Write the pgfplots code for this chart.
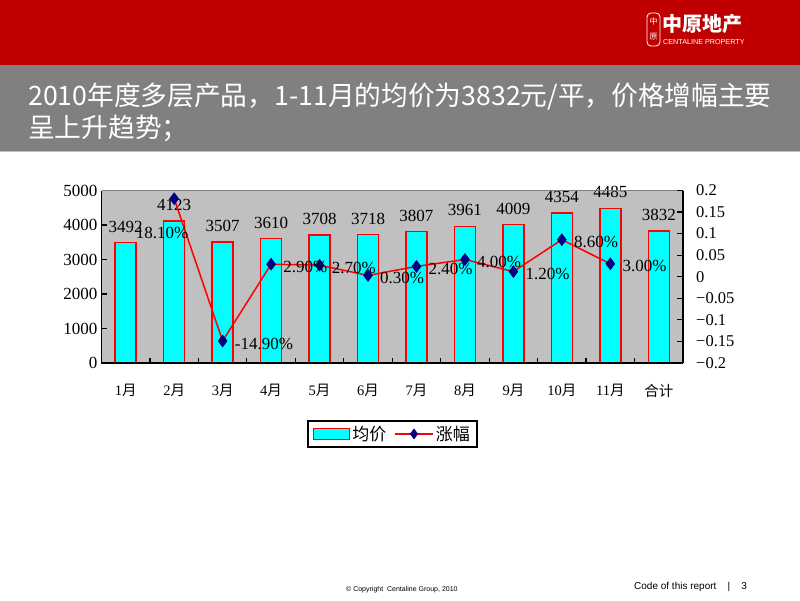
\documentclass[border=0pt]{standalone}
\usepackage{fontspec}
\usepackage{pgfplots}
\pgfplotsset{compat=1.18}
\setmainfont{Liberation Serif}
\newfontfamily\cjk{Noto Sans CJK SC}
\newfontfamily\sans{Liberation Sans}
\definecolor{hdrred}{RGB}{192,0,0}
\definecolor{hdrgray}{RGB}{128,128,128}
\definecolor{plotgray}{RGB}{192,192,192}
\definecolor{navy}{RGB}{0,0,128}
\definecolor{barcyan}{RGB}{0,255,255}
\newcommand\yue{{\cjk 月}}
\begin{document}
\begin{tikzpicture}[x=1pt,y=1pt]
\useasboundingbox (0pt,0pt) rectangle (800pt,600pt);
\fill[white] (0pt,0pt) rectangle (800pt,600pt);
\fill[hdrred] (0pt,535pt) rectangle (800pt,600pt);
\fill[hdrgray] (0pt,448.5pt) rectangle (800pt,535pt);
\draw[plotgray, line width=1pt] (0pt,448pt) -- (800pt,448pt);
\node[anchor=west, text=white, font=\cjk\fontsize{26.7}{30}\selectfont, inner sep=0] at (28pt,503pt) {2010年度多层产品，1-11月的均价为3832元/平，价格增幅主要};
\node[anchor=west, text=white, font=\cjk\fontsize{26.7}{30}\selectfont, inner sep=0] at (28pt,472pt) {呈上升趋势；};
% logo
\node[anchor=west, text=white, font=\cjk\bfseries\fontsize{20}{20}\selectfont, inner sep=0] at (662pt,576pt) {中原地产};
\node[anchor=west, text=white, font=\sans\fontsize{7.2}{8}\selectfont, inner sep=0] at (663pt,558pt) {CENTALINE PROPERTY};
\draw[white, line width=0.8pt, rounded corners=4pt] (647pt,554pt) rectangle (660pt,587pt);
\node[text=white, font=\cjk\fontsize{8}{8}\selectfont, inner sep=0] at (653.5pt,579pt) {中};
\node[text=white, font=\cjk\fontsize{8}{8}\selectfont, inner sep=0] at (653.5pt,563pt) {原};
% footer
\node[anchor=west, font=\sans\fontsize{7}{8}\selectfont, inner sep=0] at (346pt,10pt) {© Copyright\ \ Centaline Group, 2010};
\node[anchor=west, font=\sans\fontsize{10}{11}\selectfont, inner sep=0] at (634pt,13pt) {Code of this report\ \ \ \ |\ \ \ \ 3};

\begin{axis}[
  at={(101.5pt,237pt)}, anchor=south west,
  scale only axis, width=581.5pt, height=172.5pt,
  xmin=-0.5, xmax=11.5, ymin=0, ymax=5000,
  axis background/.style={fill=plotgray},
  axis line style={draw=none},
  tick align=inside,
  xtick pos=left, ytick pos=left,
  xtick={0,...,11},
  xticklabels={1\yue,2\yue,3\yue,4\yue,5\yue,6\yue,7\yue,8\yue,9\yue,10\yue,11\yue,{\cjk 合计}},
  major x tick style={draw=none},
  minor xtick={0.5,1.5,...,10.5},
  minor x tick style={black, line width=1.2pt},
  major tick length=5pt, minor tick length=5pt,
  y tick style={black, line width=1.2pt},
  ytick={0,1000,2000,3000,4000,5000},
  yticklabels={0,1000,2000,3000,4000,5000},
  x tick label style={font=\fontsize{14.5}{15}\selectfont, yshift=-18pt},
  y tick label style={font=\fontsize{17}{17}\selectfont, inner sep=1pt, xshift=-3pt},
  after end axis/.code={
    \draw[hdrgray, line width=1.5pt] (rel axis cs:0,1) -- (rel axis cs:1,1);
    \draw[black, line width=1.8pt] (rel axis cs:0,1) -- (rel axis cs:0,0) -- (rel axis cs:1,0);
  },
  clip=false,
]
\addplot[ybar, bar width=21pt, fill=barcyan, draw=red, line width=1.5pt,
  nodes near coords, point meta=explicit symbolic,
  every node near coord/.append style={anchor=center, yshift=16pt, inner sep=0, font=\fontsize{17}{17}\selectfont, text=black}]
  coordinates {(0,3492)[3492] (1,4123)[4123] (2,3507)[3507] (3,3610)[3610] (4,3708)[3708] (5,3718)[3718]
               (6,3807)[3807] (7,3961)[3961] (8,4009)[4009] (9,4354)[4354] (10,4485)[4485] (11,3832)[3832]};
\end{axis}

\begin{axis}[
  at={(101.5pt,237pt)}, anchor=south west,
  scale only axis, width=581.5pt, height=172.5pt,
  xmin=-0.5, xmax=11.5, ymin=-0.2, ymax=0.2,
  hide x axis,
  axis line style={draw=none},
  tick align=inside,
  ytick pos=right,
  ytick={-0.2,-0.15,-0.1,-0.05,0,0.05,0.1,0.15,0.2},
  yticklabels={−0.2,−0.15,−0.1,−0.05,0,0.05,0.1,0.15,0.2},
  major tick length=6pt,
  y tick style={black, line width=1.2pt},
  y tick label style={font=\fontsize{16.5}{16.5}\selectfont, inner sep=0pt, xshift=13pt, anchor=west},
  after end axis/.code={
    \draw[black, line width=1.8pt] (rel axis cs:1,1) -- (rel axis cs:1,0);
  },
  clip=false,
  legend style={at={(rel axis cs:0.5,-0.332)}, anchor=north, draw=black, line width=1.6pt,
    font=\cjk\fontsize{17}{17}\selectfont, inner xsep=5pt, inner ysep=3pt,
    /tikz/every even column/.append style={column sep=6pt}},
  legend columns=2,
]
\addlegendimage{legend image code/.code={\draw[fill=barcyan, draw=red, line width=1.5pt] (0pt,-5.5pt) rectangle (36pt,5.5pt);}}
\addlegendentry{均价}
\addlegendimage{legend image code/.code={\draw[red, line width=1.5pt] (0pt,0pt) -- (38pt,0pt);
  \draw[navy, fill=navy, line width=0.5pt] plot[mark=diamond*, mark size=5pt] coordinates {(19pt,0pt)};}}
\addlegendentry{涨幅}
\addplot[red, line width=1.5pt, mark=diamond*, mark size=6pt, mark options={fill=navy, draw=navy, line width=0.5pt}, forget plot]
  coordinates {(1,0.181) (2,-0.149) (3,0.029) (4,0.027) (5,0.003) (6,0.024) (7,0.040) (8,0.012) (9,0.086) (10,0.030)};
\addplot[draw=none, mark=none, forget plot, nodes near coords, point meta=explicit symbolic,
  every node near coord/.append style={anchor=west, xshift=12pt, yshift=-2.5pt, inner sep=0, font=\fontsize{17}{17}\selectfont, text=black}]
  coordinates {(2,-0.149)[-14.90\%] (3,0.029)[2.90\%] (4,0.027)[2.70\%] (5,0.003)[0.30\%] (6,0.024)[2.40\%]
               (7,0.040)[4.00\%] (8,0.012)[1.20\%] (9,0.086)[8.60\%] (10,0.030)[3.00\%]};
\addplot[draw=none, mark=none, forget plot, nodes near coords, point meta=explicit symbolic,
  every node near coord/.append style={anchor=center, xshift=-12pt, yshift=-34pt, inner sep=0, font=\fontsize{17}{17}\selectfont, text=black}]
  coordinates {(1,0.181)[18.10\%]};
\end{axis}
\end{tikzpicture}
\end{document}
